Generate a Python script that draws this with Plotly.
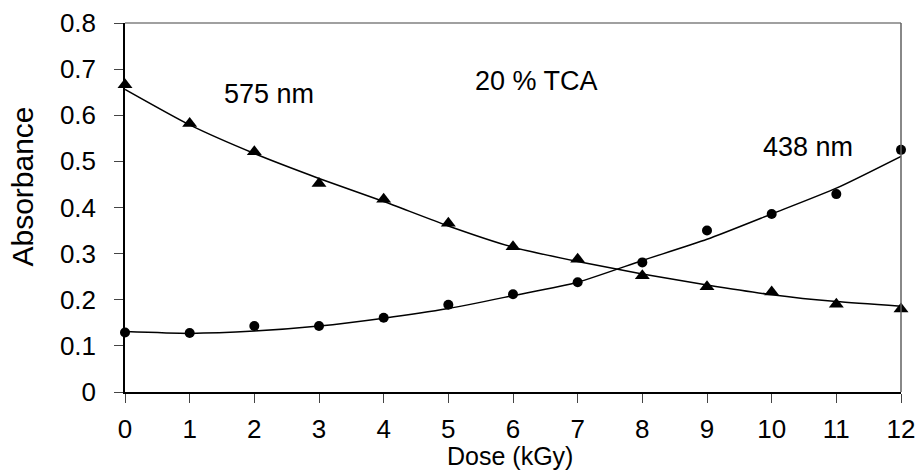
import plotly.graph_objects as go

dose = [0, 1, 2, 3, 4, 5, 6, 7, 8, 9, 10, 11, 12]

# measured points
abs_575 = [0.666, 0.582, 0.521, 0.452, 0.418, 0.366, 0.315, 0.288, 0.252, 0.228, 0.217, 0.190, 0.180]
abs_438 = [0.129, 0.128, 0.143, 0.143, 0.161, 0.189, 0.212, 0.238, 0.281, 0.350, 0.386, 0.429, 0.525]

# trend curves
fit_575 = [0.656, 0.579, 0.517, 0.463, 0.413, 0.360, 0.314, 0.283, 0.256, 0.232, 0.211, 0.196, 0.186]
fit_438 = [0.131, 0.127, 0.132, 0.143, 0.160, 0.181, 0.209, 0.238, 0.285, 0.331, 0.386, 0.442, 0.511]

x_ticks = [0, 1, 2, 3, 4, 5, 6, 7, 8, 9, 10, 11, 12]
y_ticks = [0, 0.1, 0.2, 0.3, 0.4, 0.5, 0.6, 0.7, 0.8]
y_tick_text = ["0", "0.1", "0.2", "0.3", "0.4", "0.5", "0.6", "0.7", "0.8"]

FONT = "Liberation Sans, Arial, sans-serif"

fig = go.Figure()
fig.add_trace(go.Scatter(x=dose, y=fit_575, mode="lines",
                         line=dict(color="black", width=1.5, shape="spline", smoothing=0.6),
                         showlegend=False, hoverinfo="skip"))
fig.add_trace(go.Scatter(x=dose, y=fit_438, mode="lines",
                         line=dict(color="black", width=1.5, shape="spline", smoothing=0.6),
                         showlegend=False, hoverinfo="skip"))
fig.add_trace(go.Scatter(x=dose, y=abs_575, mode="markers", name="575 nm",
                         marker=dict(symbol="triangle-up", size=13, color="black"),
                         showlegend=False, cliponaxis=False))
fig.add_trace(go.Scatter(x=dose, y=abs_438, mode="markers", name="438 nm",
                         marker=dict(symbol="circle", size=10, color="black"),
                         showlegend=False, cliponaxis=False))

fig.update_layout(
    width=919, height=472,
    margin=dict(l=125, r=17.5, t=23, b=80, autoexpand=False),
    paper_bgcolor="white", plot_bgcolor="white",
    font=dict(family=FONT, color="black", size=26),
    showlegend=False,
    xaxis=dict(range=[0, 12], tickvals=x_ticks, showgrid=False, zeroline=False,
               showline=True, linecolor="black", linewidth=1.5, automargin=False,
               ticks="outside", ticklen=9, tickwidth=1, tickcolor="#444",
               ticklabelstandoff=4, tickfont=dict(size=26, family=FONT)),
    yaxis=dict(range=[0, 0.8], tickvals=y_ticks, ticktext=y_tick_text,
               showgrid=False, zeroline=False, automargin=False,
               showline=True, linecolor="black", linewidth=1.5,
               ticks="outside", ticklen=9, tickwidth=1, tickcolor="#444",
               ticklabelstandoff=13, tickfont=dict(size=26, family=FONT)),
    shapes=[
        dict(type="line", xref="paper", yref="paper", x0=0, x1=1, y0=1, y1=1,
             line=dict(color="#808080", width=1.5)),
        dict(type="line", xref="paper", yref="paper", x0=1, x1=1, y0=0, y1=1,
             line=dict(color="#606060", width=1.5)),
    ],
    annotations=[
        dict(text="575 nm", x=2.225, y=0.646, xref="x", yref="y", showarrow=False,
             xanchor="center", yanchor="middle", font=dict(size=27, family=FONT)),
        dict(text="20 % TCA", x=6.36, y=0.674, xref="x", yref="y", showarrow=False,
             xanchor="center", yanchor="middle", font=dict(size=27, family=FONT)),
        dict(text="438 nm", x=10.555, y=0.531, xref="x", yref="y", showarrow=False,
             xanchor="center", yanchor="middle", font=dict(size=27, family=FONT)),
        dict(text="Absorbance", x=-0.132, y=0.5556, xref="paper", yref="paper",
             xanchor="center", yanchor="middle",
             showarrow=False, textangle=-90, font=dict(size=30, family=FONT)),
        dict(text="Dose (kGy)", x=0.4958, y=-0.174, xref="paper", yref="paper",
             xanchor="center", yanchor="middle",
             showarrow=False, font=dict(size=25, family=FONT)),
    ],
)

fig.write_html("out.html", config={"displayModeBar": False},
               post_script="document.body.style.margin='0';document.body.style.overflow='hidden';")
